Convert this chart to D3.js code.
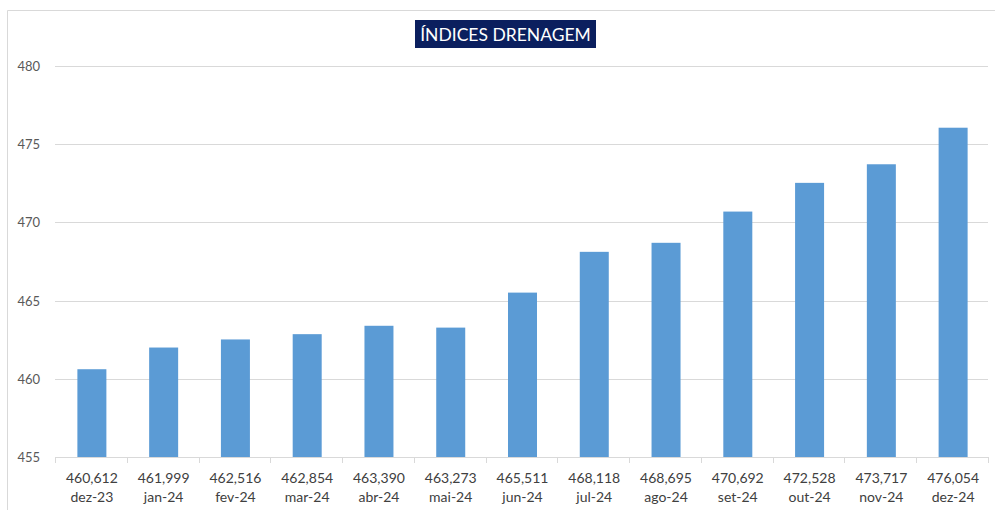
<!DOCTYPE html>
<html lang="pt">
<head>
<meta charset="UTF-8">
<script src="https://d3js.org/d3.v7.min.js"></script>
<title>Índices Drenagem</title>
<style>
  body { margin: 0; background: #fff; }
  text { font-family: Lato, "Open Sans", sans-serif; }
</style>
</head>
<body>
<div id="chart"></div>
<script>
  var months = ["dez-23","jan-24","fev-24","mar-24","abr-24","mai-24","jun-24","jul-24","ago-24","set-24","out-24","nov-24","dez-24"];
  var values = [460.612, 461.999, 462.516, 462.854, 463.390, 463.273, 465.511, 468.118, 468.695, 470.692, 472.528, 473.717, 476.054];
  var valueLabels = ["460,612","461,999","462,516","462,854","463,390","463,273","465,511","468,118","468,695","470,692","472,528","473,717","476,054"];
  var yTicks = [455, 460, 465, 470, 475, 480];

  var W = 995, H = 510;
  var svg = d3.select("#chart").append("svg").attr("width", W).attr("height", H);

  // chart frame
  svg.append("path").attr("d", "M7.5," + H + "V10.5H" + W)
     .attr("fill", "none").attr("stroke", "#d9d9d9");

  var y = d3.scaleLinear().domain([455, 480]).range([457, 66]);
  var cw = 933 / months.length;
  var cx = d3.scalePoint().domain(months).range([56 + cw / 2, 989 - cw / 2]);

  // gridlines
  svg.append("g").selectAll("line").data(yTicks).enter().append("line")
     .attr("x1", 55).attr("x2", 988)
     .attr("y1", d => Math.round(y(d)) + 0.5).attr("y2", d => Math.round(y(d)) + 0.5)
     .attr("stroke", "#d9d9d9");

  // y labels
  svg.append("g").selectAll("text").data(yTicks).enter().append("text")
     .attr("x", 40).attr("y", d => y(d) + 5)
     .attr("text-anchor", "end").attr("font-size", 13).attr("fill", "#595959")
     .text(d => d);

  // category tick marks
  var edges = d3.range(months.length + 1).map(i => 55 + i * cw);
  svg.append("g").selectAll("line").data(edges).enter().append("line")
     .attr("x1", d => Math.round(d) + 0.5).attr("x2", d => Math.round(d) + 0.5)
     .attr("y1", 457).attr("y2", 463).attr("stroke", "#d9d9d9");

  // bars
  var bw = 29;
  svg.append("g").selectAll("rect").data(values).enter().append("rect")
     .attr("x", (d, i) => cx(months[i]) - bw / 2)
     .attr("y", d => y(d))
     .attr("width", bw)
     .attr("height", d => y(455) - y(d))
     .attr("fill", "#5b9bd5");

  // x labels
  var xl = svg.append("g").selectAll("text").data(months).enter().append("text")
     .attr("text-anchor", "middle").attr("font-size", 14).attr("fill", "#404040");
  xl.append("tspan").attr("x", d => cx(d)).attr("y", 483).text((d, i) => valueLabels[i]);
  xl.append("tspan").attr("x", d => cx(d)).attr("y", 502).text(d => d);

  // title
  var tg = svg.append("g");
  tg.append("rect").attr("x", 415).attr("y", 20).attr("width", 181).attr("height", 28).attr("fill", "#0b1f5e");
  tg.append("text").attr("x", 505.5).attr("y", 40.5).attr("text-anchor", "middle")
    .attr("font-size", 17.5).attr("fill", "#fff").text("ÍNDICES DRENAGEM");
</script>
</body>
</html>
